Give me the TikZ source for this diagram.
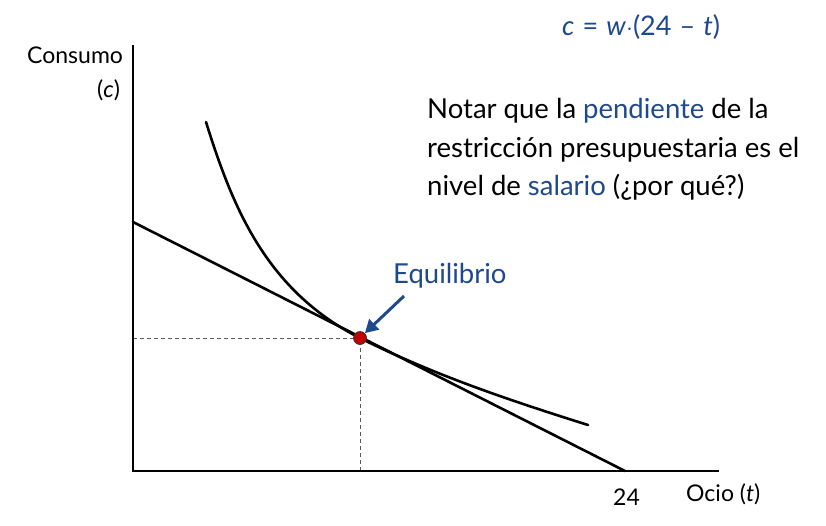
\documentclass[tikz,border=0pt]{standalone}
\usepackage{fontspec}
\setmainfont{Lato}
\usetikzlibrary{arrows.meta}
\definecolor{eqblue}{RGB}{31,73,140}
\definecolor{dotred}{RGB}{192,0,0}
\begin{document}
\begin{tikzpicture}[x=1pt,y=-1pt,
  axis/.style={line width=2.6pt},
  curve/.style={line width=2.6pt, line cap=round},
  guide/.style={line width=0.9pt, dash pattern=on 4pt off 3pt, black!65},
  lbl/.style={inner sep=0pt, anchor=base west, font=\fontsize{23}{27}\selectfont},
  note/.style={inner sep=0pt, anchor=base west, font=\fontsize{27.5}{39}\selectfont},
  pointer/.style={eqblue, line width=3pt, -{Triangle[length=13pt,width=14pt]}}]
\useasboundingbox (0,0) rectangle (826,525);
% coordinates
\coordinate (O) at (133,471);
\coordinate (ytop) at (133,45);
\coordinate (xend) at (719,471);
\coordinate (B0) at (133,222);
\coordinate (B1) at (625,471);
\coordinate (Ey) at (133,338);
\coordinate (Ex) at (360,471);
\coordinate (Ep) at (360,338);
\coordinate (I0) at (206,122);
\coordinate (I1) at (588,425);
\coordinate (Atail) at (404,296);
% guides
\draw[guide] (Ey) -- (Ep);
\draw[guide] (Ex) -- (Ep);
% axes
\draw[axis] (ytop) -- (O) -- (xend);
% budget line
\draw[curve] (B0) -- (B1);
% indifference curve
\draw[curve] (I0) .. controls (232,205) and (265,290) .. (Ep)
                 .. controls (436,376) and (512,401) .. (I1);
% equilibrium point
\node[circle, fill=dotred, draw=black!80, line width=0.7pt, minimum size=13pt, inner sep=0pt] (E) at (Ep) {};
\draw[pointer] (Atail) -- (E.north east);
% labels
\node[lbl, eqblue, font=\fontsize{27}{30}\selectfont] (eq) at (562,35) {\textit{c}\hspace{0.3em}=\hspace{0.3em}\textit{w}$\cdot$(24\hspace{0.3em}–\hspace{0.3em}\textit{t})};
\node[lbl] (cons) at (27,63) {Consumo};
\node[lbl] (cvar) at (97,97) {(\textit{c})};
\node[lbl] (n24) at (613,505) {24};
\node[lbl] (ocio) at (686,501) {Ocio (\textit{t})};
\node[note] (nota1) at (427,118) {Notar que la \textcolor{eqblue}{pendiente} de la};
\node[note] (nota2) at (427,157) {restricción presupuestaria es el};
\node[note] (nota3) at (427,195) {nivel de \textcolor{eqblue}{salario} (¿por qué?)};
\node[note, eqblue] (equil) at (393,283) {Equilibrio};
\end{tikzpicture}
\end{document}
